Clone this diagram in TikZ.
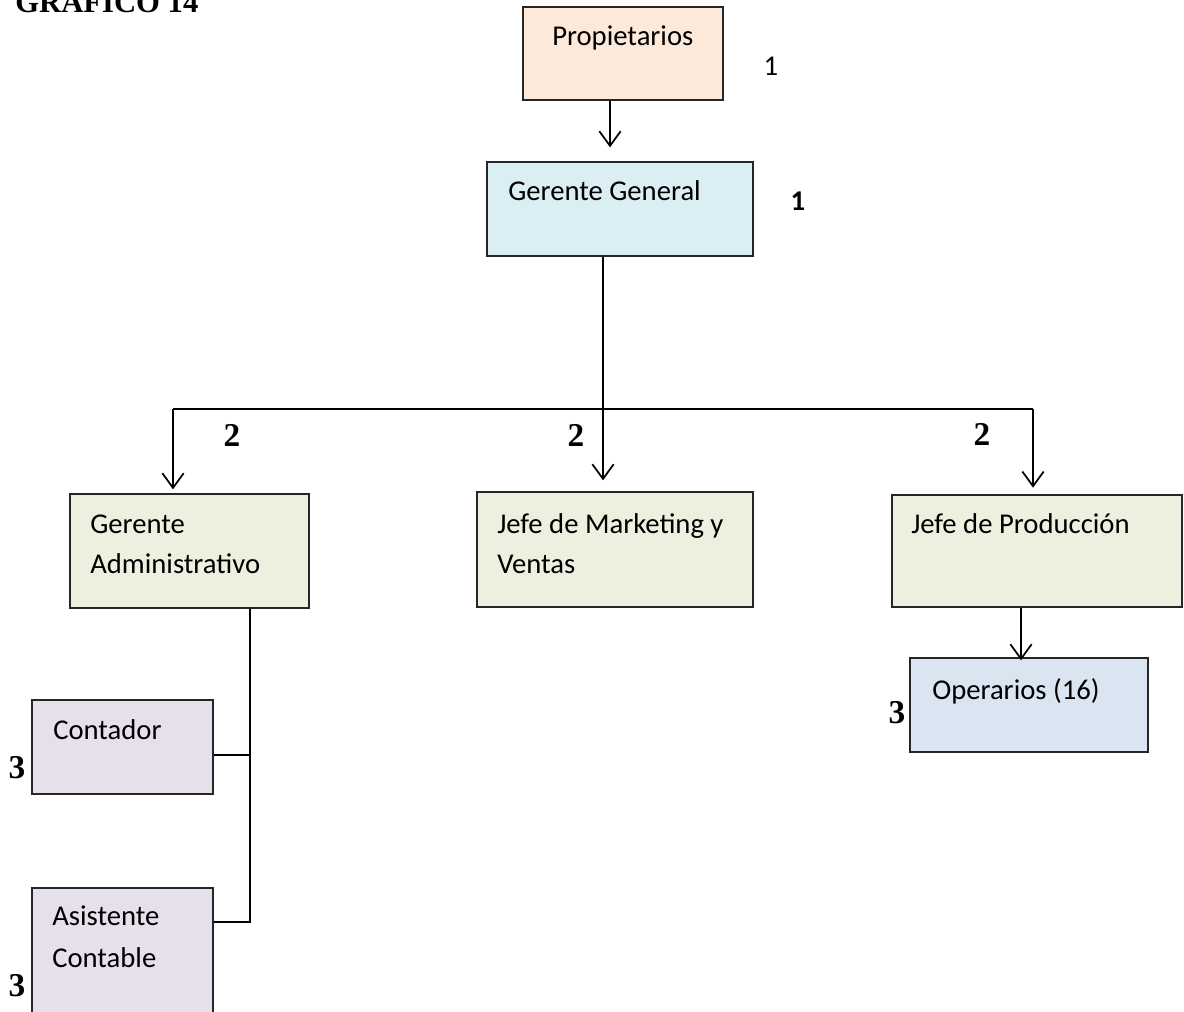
\documentclass[tikz,border=0pt]{standalone}
\usepackage{fontspec}
\setmainfont{Carlito}
\newfontfamily\timesfont{Liberation Serif}
\usetikzlibrary{fit,arrows.meta,calc}
\definecolor{peach}{HTML}{FDE9D9}
\definecolor{skyfill}{HTML}{DAEEF3}
\definecolor{olivefill}{HTML}{EBF1DE}
\definecolor{bluefill}{HTML}{DBE5F1}
\definecolor{lilac}{HTML}{E5E0EC}
\begin{document}
\begin{tikzpicture}[x=0.75pt,y=-0.75pt,
  box/.style={draw=black!85, line width=1pt, inner sep=0pt},
  txt/.style={anchor=base west, inner sep=0pt, font=\fontsize{21.5}{26}\selectfont},
  lvl/.style={inner sep=0pt, font=\timesfont\bfseries\fontsize{25}{30}\selectfont},
  wire/.style={line width=1.3pt},
  arr/.style={wire, -{Straight Barb[length=11pt,width=16pt,line width=1.3pt]}}
]
\useasboundingbox (0,0) rectangle (1184,1011);
\clip (0,0) rectangle (1184,1011);

% title
\node[anchor=base west, inner sep=0pt, font=\timesfont\bfseries\fontsize{23}{28}\selectfont] (title) at (15,12) {GRAFICO 14};

% boxes
\node[box, fill=peach, fit={(523,7) (723,100)}] (pr) {};
\node[box, fill=skyfill, fit={(487,162) (753,256)}] (gg) {};
\node[box, fill=olivefill, fit={(70,494) (309,608)}] (ga) {};
\node[box, fill=olivefill, fit={(477,492) (753,607)}] (mk) {};
\node[box, fill=olivefill, fit={(892,495) (1182,607)}] (jp) {};
\node[box, fill=bluefill, fit={(910,658) (1148,752)}] (op) {};
\node[box, fill=lilac, fit={(32,700) (213,794)}] (co) {};
\node[box, fill=lilac, fit={(32,888) (213,1040)}] (as) {};

% box texts
\node[txt] (prT) at (552,45) {Propietarios};
\node[txt] (ggT) at (508,200) {Gerente General};
\node[txt] (gaT1) at (90,533) {Gerente};
\node[txt] (gaT2) at (90,573) {Administrativo};
\node[txt] (mkT1) at (497,533) {Jefe de Marketing y};
\node[txt] (mkT2) at (497,573) {Ventas};
\node[txt] (jpT) at (911,533) {Jefe de Producción};
\node[txt] (opT) at (932,699) {Operarios (16)};
\node[txt] (coT) at (53,739) {Contador};
\node[txt] (asT1) at (52,925) {Asistente};
\node[txt] (asT2) at (52,967) {Contable};

% level numbers
\node[inner sep=0pt, font=\fontsize{21.5}{26}\selectfont] (n1a) at (771,66) {1};
\node[inner sep=0pt, font=\bfseries\fontsize{21.5}{26}\selectfont] (n1b) at (798,201) {1};
\node[lvl] (n2a) at (232,435) {2};
\node[lvl] (n2b) at (576,435) {2};
\node[lvl] (n2c) at (982,434) {2};
\node[lvl] (n3a) at (897,713) {3};
\node[lvl] (n3b) at (17,768) {3};
\node[lvl] (n3c) at (17,986) {3};

% connectors
\coordinate (prOut) at ([xshift=-9.75pt]pr.south);
\draw[arr, shorten >=10.5pt] (prOut) -- (prOut |- gg.north);

\coordinate (ggOut) at ([xshift=-12.75pt]gg.south);
\draw[arr, shorten >=8.25pt] (ggOut) -- (ggOut |- mk.north);

\coordinate (busL) at (173,409);
\coordinate (busR) at (1033,409);
\draw[wire] (busL) -- (busR);
\draw[arr, shorten >=3pt] (busL) -- (busL |- ga.north);
\draw[arr, shorten >=5pt] (busR) -- (busR |- jp.north);

\coordinate (jpOut) at ([xshift=-12pt]jp.south);
\draw[arr, shorten >=-2.25pt] (jpOut) -- (jpOut |- op.north);

\coordinate (gaOut) at ([xshift=45.4pt]ga.south);
\coordinate (coIn) at ([yshift=-6pt]co.east);
\coordinate (asIn) at ([yshift=-26.25pt]as.north east);
\draw[wire] (gaOut) -- (gaOut |- asIn) -- (asIn);
\draw[wire] (coIn) -- (gaOut |- coIn);
\end{tikzpicture}
\end{document}
